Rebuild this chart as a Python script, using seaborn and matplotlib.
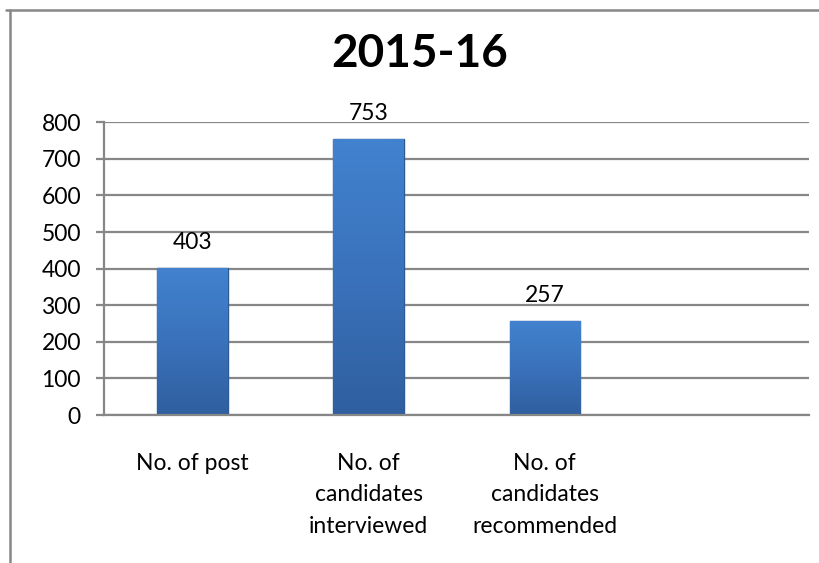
import seaborn as sns
import matplotlib.pyplot as plt
import matplotlib.colors as mcolors
from matplotlib.lines import Line2D
import numpy as np
import pandas as pd

title = "2015-16"
categories = ["No. of post", "No. of\ncandidates\ninterviewed",
              "No. of\ncandidates\nrecommended", ""]
values = [403, 753, 257, 0]
y_ticks = [0, 100, 200, 300, 400, 500, 600, 700, 800]

df = pd.DataFrame({"cat": categories, "val": values})

sns.set_theme(style="white")
plt.rcParams['font.family'] = ['Lato', 'DejaVu Sans']
plt.rcParams['text.color'] = 'black'

grey = "#878787"
fig = plt.figure(figsize=(8.2, 5.63), dpi=100)
ax = fig.add_axes([104.5 / 820, 148 / 563, 704.5 / 820, 292.7 / 563])

sns.barplot(data=df, x="cat", y="val", color="#3a73bd", width=0.4,
            saturation=1, edgecolor="#2c5a94", linewidth=1, ax=ax)

# vertical gradient on each bar
cmap = mcolors.LinearSegmentedColormap.from_list(
    "bar", ["#2f5f9f", "#3a72bb", "#4282cf"])
grad = np.linspace(0, 1, 256).reshape(-1, 1)
for p, v in zip(ax.patches, values):
    if v == 0:
        p.set_visible(False)
        continue
    x0, w, h = p.get_x(), p.get_width(), p.get_height()
    im = ax.imshow(grad, cmap=cmap, aspect="auto", origin="lower",
                   extent=[x0, x0 + w, 0, h], zorder=p.get_zorder() + 0.1)
    im.set_clip_path(p)
    ax.annotate(f"{v}", (x0 + w / 2, h), xytext=(0, 13.7),
                textcoords="offset points", ha="center", va="baseline",
                fontsize=16.5, color="black")

ax.set_xlim(-0.5, 3.5)
ax.set_ylim(0, 800)
ax.set_yticks(y_ticks)
ax.set_xlabel("")
ax.set_ylabel("")
ax.yaxis.grid(True, color=grey, linewidth=1.6)
ax.set_axisbelow(True)
for s in ["top", "right"]:
    ax.spines[s].set_visible(False)
for s in ["left", "bottom"]:
    ax.spines[s].set_color(grey)
    ax.spines[s].set_linewidth(1.6)
ax.tick_params(axis="y", left=True, length=6, width=1.6, color=grey,
               labelsize=16.5, pad=11, labelcolor="black")
ax.tick_params(axis="x", bottom=False, labelsize=16.5, pad=21,
               labelcolor="black")
for lab in ax.get_xticklabels():
    lab.set_linespacing(1.62)

fig.text(420 / 820, 1 - 67 / 563, title, ha="center", va="baseline",
         fontsize=33, fontweight="bold", color="black")

# chart area border (top and left visible)
fig.add_artist(Line2D([6 / 820, 1], [1 - 10 / 563] * 2, color=grey,
                      linewidth=1.8, transform=fig.transFigure))
fig.add_artist(Line2D([10 / 820] * 2, [0, 1 - 10 / 563], color=grey,
                      linewidth=1.8, transform=fig.transFigure))

fig.savefig("out.png", dpi=100)
